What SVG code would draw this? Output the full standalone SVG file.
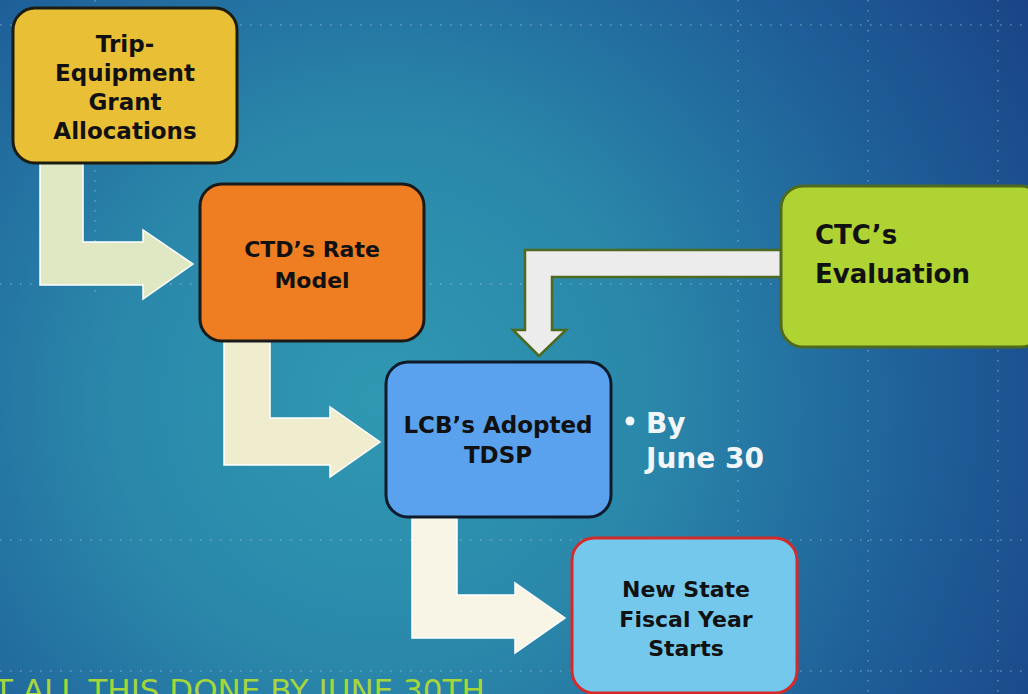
<svg xmlns="http://www.w3.org/2000/svg" width="1028" height="694" viewBox="0 0 1028 694">
  <defs>
    <radialGradient id="bg" gradientUnits="userSpaceOnUse" cx="380" cy="400" r="760">
      <stop offset="0" stop-color="#3098b2"/>
      <stop offset="0.35" stop-color="#2a88aa"/>
      <stop offset="0.7" stop-color="#1f619a"/>
      <stop offset="1" stop-color="#1a4486"/>
    </radialGradient>
    <style>
      .guide { stroke: #a8d0e8; stroke-width: 1.6; stroke-dasharray: 1.6 8.4; opacity: 0.45; fill: none; }
      .box { stroke-width: 3; }
      .lbl { font-family: "DejaVu Sans", "Liberation Sans", sans-serif; font-weight: bold; fill: #111111; text-anchor: middle; }
      .arrow { stroke: #ffffff; stroke-width: 1.5; stroke-linejoin: miter; }
    </style>
  </defs>

  <rect x="0" y="0" width="1028" height="694" fill="url(#bg)"/>

  <g id="guides">
    <line class="guide" x1="0" y1="25" x2="1028" y2="25"/>
    <line class="guide" x1="0" y1="284" x2="1028" y2="284"/>
    <line class="guide" x1="0" y1="540" x2="1028" y2="540"/>
    <line class="guide" x1="0" y1="671" x2="1028" y2="671"/>
    <line class="guide" x1="95" y1="0" x2="95" y2="300"/>
    <line class="guide" x1="738" y1="0" x2="738" y2="694"/>
    <line class="guide" x1="868" y1="0" x2="868" y2="694"/>
    <line class="guide" x1="998" y1="0" x2="998" y2="694"/>
  </g>

  <g id="connectors">
    <path class="arrow" fill="#dfe8c2" d="M40,163 L83,163 L83,242 L143,242 L143,230 L193,264 L143,299 L143,285 L40,285 Z"/>
    <path class="arrow" fill="#efedce" d="M224,341 L270,341 L270,418 L330,418 L330,407 L380,442 L330,477 L330,465 L224,465 Z"/>
    <path class="arrow" fill="#f8f4e6" d="M412,517 L457,517 L457,595 L515,595 L515,583 L565,618 L515,653 L515,638 L412,638 Z"/>
    <path fill="#ececec" stroke="#4d6a1e" stroke-width="2.5" d="M783,250 L525,250 L525,330 L513,330 L539,356 L566,330 L552,330 L552,277 L783,277 Z"/>
  </g>

  <g id="node-trip">
    <rect class="box" x="13" y="8" width="224" height="155" rx="22" fill="#e9bf36" stroke="#1c1c12"/>
    <text class="lbl" font-size="23" x="125" y="52">Trip-</text>
    <text class="lbl" font-size="23" x="125" y="81">Equipment</text>
    <text class="lbl" font-size="23" x="125" y="110">Grant</text>
    <text class="lbl" font-size="23" x="125" y="139">Allocations</text>
  </g>

  <g id="node-ctd">
    <rect class="box" x="200" y="184" width="224" height="157" rx="22" fill="#ef7d22" stroke="#1a1a1a"/>
    <text class="lbl" font-size="22" x="312" y="257">CTD’s Rate</text>
    <text class="lbl" font-size="22" x="312" y="288">Model</text>
  </g>

  <g id="node-lcb">
    <rect class="box" x="386" y="362" width="225" height="155" rx="22" fill="#5aa2ee" stroke="#0f1a2a"/>
    <text class="lbl" font-size="23" x="498" y="433">LCB’s Adopted</text>
    <text class="lbl" font-size="23" x="498" y="463">TDSP</text>
  </g>

  <g id="node-fiscal">
    <rect class="box" x="572" y="538" width="225" height="155" rx="22" fill="#74c8ec" stroke="#d42a2a"/>
    <text class="lbl" font-size="22" x="686" y="597">New State</text>
    <text class="lbl" font-size="22" x="686" y="627">Fiscal Year</text>
    <text class="lbl" font-size="22" x="686" y="656">Starts</text>
  </g>

  <g id="node-ctc">
    <rect class="box" x="781" y="186" width="262" height="161" rx="22" fill="#afd332" stroke="#4f6a1e"/>
    <text class="lbl" font-size="26" x="815" y="244" style="text-anchor:start">CTC’s</text>
    <text class="lbl" font-size="26" x="815" y="283" style="text-anchor:start">Evaluation</text>
  </g>

  <g id="note-june">
    <circle cx="630" cy="421" r="4.5" fill="#f2f6f8"/>
    <text font-family="DejaVu Sans, Liberation Sans, sans-serif" font-weight="bold" font-size="28" fill="#f2f6f8" x="646" y="433">By</text>
    <text font-family="DejaVu Sans, Liberation Sans, sans-serif" font-weight="bold" font-size="28" fill="#f2f6f8" x="646" y="468">June 30</text>
  </g>

  <g id="title">
    <text font-family="DejaVu Sans, Liberation Sans, sans-serif" font-size="31" fill="#a6d63a" x="-6" y="701">T ALL THIS DONE BY JUNE 30TH</text>
  </g>
</svg>
